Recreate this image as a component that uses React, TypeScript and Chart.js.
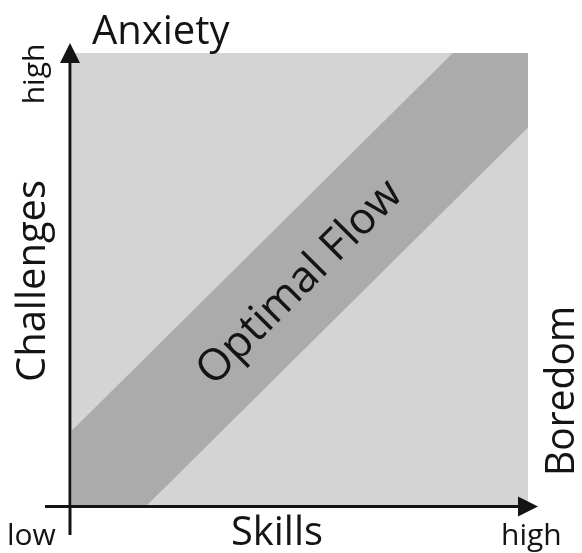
import React, { useEffect, useRef } from "react";
import { Chart, registerables } from "chart.js";

Chart.register(...registerables);

// Field (the whole challenge/skill square), in axis units 0..100
const fieldX = [0, 100];
const fieldY = [100, 100];
// Optimal-flow channel boundaries
const upperX = [0, 83.5, 100];
const upperY = [16.5, 100, 100];
const lowerX = [0, 16.5, 100];
const lowerY = [0, 0, 83.5];
// Texts
const axisTitles = ["Skills", "Challenges"];
const zoneLabels = ["Anxiety", "Boredom", "Optimal Flow"];
const tickLabels = ["low", "high"];

const toPts = (xs: number[], ys: number[]) => xs.map((x, i) => ({ x, y: ys[i] }));

const FONT = '"Open Sans", "DejaVu Sans", sans-serif';
const INK = "#141414";

const decorPlugin = {
  id: "flowDecor",
  afterDraw(chart: any) {
    const ctx = chart.ctx as CanvasRenderingContext2D;
    const a = chart.chartArea;
    const ax = a.left - 2; // y-axis line x
    const ay = a.bottom + 1.5; // x-axis line y
    ctx.save();
    ctx.strokeStyle = INK;
    ctx.fillStyle = INK;
    ctx.lineWidth = 3;
    // vertical axis
    ctx.beginPath();
    ctx.moveTo(ax, 535);
    ctx.lineTo(ax, 60);
    ctx.stroke();
    ctx.beginPath();
    ctx.moveTo(ax, 43);
    ctx.lineTo(ax - 10, 63);
    ctx.lineTo(ax + 10, 63);
    ctx.closePath();
    ctx.fill();
    // horizontal axis
    ctx.beginPath();
    ctx.moveTo(45, ay);
    ctx.lineTo(520, ay);
    ctx.stroke();
    ctx.beginPath();
    ctx.moveTo(538, ay);
    ctx.lineTo(518, ay - 10);
    ctx.lineTo(518, ay + 10);
    ctx.closePath();
    ctx.fill();

    // texts
    ctx.textBaseline = "alphabetic";
    ctx.font = `40px ${FONT}`;
    ctx.textAlign = "left";
    ctx.fillText(zoneLabels[0], 92, 44, 140);
    ctx.fillText(axisTitles[0], 231, 545, 92);

    ctx.textAlign = "center";
    // Challenges
    ctx.save();
    ctx.translate(45, 281);
    ctx.rotate(-Math.PI / 2);
    ctx.fillText(axisTitles[1], 0, 0, 202);
    ctx.restore();
    // Boredom
    ctx.save();
    ctx.translate(574, 391);
    ctx.rotate(-Math.PI / 2);
    ctx.fillText(zoneLabels[1], 0, 0, 170);
    ctx.restore();
    // Optimal Flow
    ctx.save();
    ctx.font = `44px ${FONT}`;
    ctx.translate(300, 283);
    ctx.rotate(-Math.PI / 4);
    ctx.textBaseline = "middle";
    ctx.fillText(zoneLabels[2], 0, 0);
    ctx.restore();

    // small tick labels
    ctx.font = `30px ${FONT}`;
    ctx.textBaseline = "alphabetic";
    ctx.save();
    ctx.translate(44, 74);
    ctx.rotate(-Math.PI / 2);
    ctx.textAlign = "center";
    ctx.fillText(tickLabels[1], 0, 0);
    ctx.restore();
    ctx.textAlign = "left";
    ctx.fillText(tickLabels[0], 7, 545);
    ctx.fillText(tickLabels[1], 501, 545);
    ctx.restore();
  },
};

export default function App() {
  const ref = useRef<HTMLCanvasElement | null>(null);
  useEffect(() => {
    if (!ref.current) return;
    const chart = new Chart(ref.current, {
      type: "line",
      data: {
        datasets: [
          {
            label: "upper",
            data: toPts(upperX, upperY),
            backgroundColor: "#ababab",
            borderWidth: 0,
            pointRadius: 0,
            fill: "+1",
          },
          {
            label: "lower",
            data: toPts(lowerX, lowerY),
            backgroundColor: "#ababab",
            borderWidth: 0,
            pointRadius: 0,
            fill: false,
          },
          {
            label: "field",
            data: toPts(fieldX, fieldY),
            backgroundColor: "#d4d4d4",
            borderWidth: 0,
            pointRadius: 0,
            fill: "origin",
          },
        ],
      },
      options: {
        animation: false,
        responsive: false,
        devicePixelRatio: 1,
        layout: { padding: { left: 72, top: 53, right: 54, bottom: 48 } },
        scales: {
          x: { type: "linear", min: 0, max: 100, display: false },
          y: { type: "linear", min: 0, max: 100, display: false },
        },
        plugins: {
          legend: { display: false },
          tooltip: { enabled: false },
        },
      },
      plugins: [decorPlugin],
    });
    return () => chart.destroy();
  }, []);
  return (
    <div style={{ position: "absolute", left: 0, top: 0, width: 582, height: 553, background: "#fff" }}>
      <canvas ref={ref} width={582} height={553} style={{ display: "block" }} />
    </div>
  );
}
